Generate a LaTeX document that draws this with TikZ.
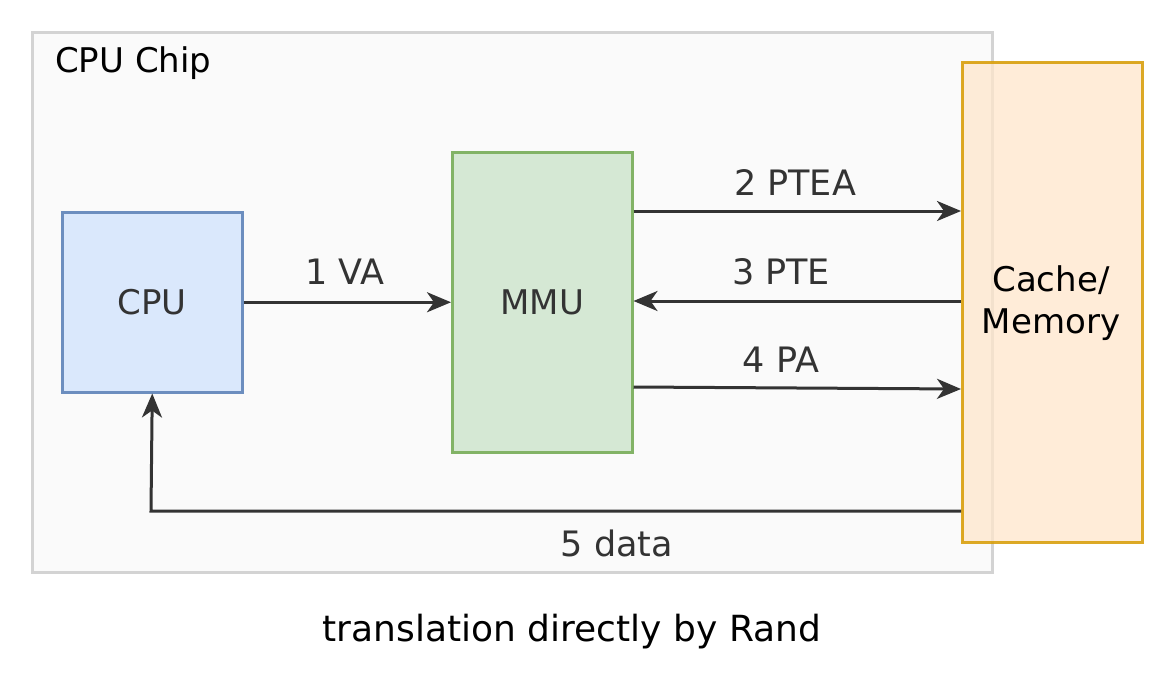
\documentclass[tikz,border=0pt]{standalone}
\usepackage{fontspec}
\setmainfont{DejaVu Sans}
\usetikzlibrary{arrows.meta}
\definecolor{chipfill}{HTML}{FAFAFA}
\definecolor{chipline}{HTML}{D3D3D3}
\definecolor{cpufill}{HTML}{DAE8FC}
\definecolor{cpuline}{HTML}{6C8EBF}
\definecolor{mmufill}{HTML}{D5E8D4}
\definecolor{mmuline}{HTML}{82B366}
\definecolor{memfill}{HTML}{FFE6CC}
\definecolor{memline}{HTML}{D79B00}
\definecolor{arrowc}{HTML}{333333}
\tikzset{
  box/.style={draw, line width=2.5pt, inner sep=0pt, anchor=north west},
  conn/.style={draw=arrowc, line width=3pt, -{Stealth[length=24pt,width=20pt,inset=7pt]}},
  lbl/.style={text=arrowc, font=\fontsize{35}{40}\selectfont, inner sep=0pt},
  big/.style={font=\fontsize{34}{42}\selectfont},
}
\begin{document}
\begin{tikzpicture}[x=1pt,y=-1pt]
\useasboundingbox (0,0) rectangle (1173,696);
\fill[white] (0,0) rectangle (1173,696);
\node[box, draw=chipline, fill=chipfill, minimum width=960pt, minimum height=540pt] (chip) at (31,31) {};
\node[anchor=west, big, inner sep=0pt] (chiplbl) at (55,63) {CPU Chip};
\node[box, draw=cpuline, fill=cpufill, minimum width=180pt, minimum height=180pt] (cpu) at (61,211) {};
\node[big, text=arrowc] (cputxt) at (cpu.center) {CPU};
\node[box, draw=mmuline, fill=mmufill, minimum width=180pt, minimum height=300pt] (mmu) at (451,151) {};
\node[big, text=arrowc] (mmutxt) at (mmu.center) {MMU};
\node[box, draw=memline, fill=memfill, fill opacity=0.75, draw opacity=0.85, minimum width=180pt, minimum height=480pt] (mem) at (961,61) {};
\node[big, align=center, text=black] (memtxt) at (1051,303) {Cache/\\Memory};
\draw[conn] (cpu.east) -- (mmu.west |- cpu.east);
\node[lbl] (l1) at (345,272) {1 VA};
\draw[conn] (mmu.east |- 0,211) -- (mem.west |- 0,211);
\node[lbl] (l2) at (795,183) {2 PTEA};
\draw[conn] (mem.west |- 0,301) -- (mmu.east |- 0,301);
\node[lbl] (l3) at (781,272) {3 PTE};
\draw[conn] (mmu.east |- 0,387) -- (mem.west |- 0,389);
\node[lbl] (l4) at (781,360) {4 PA};
\draw[conn] (mem.west |- 0,511) -- (151,511) -- (cpu.south);
\node[lbl] (l5) at (617,543) {5 data};
\node[font=\fontsize{36}{42}\selectfont, inner sep=0pt] (cap) at (572,632) {translation directly by Rand};
\end{tikzpicture}
\end{document}
